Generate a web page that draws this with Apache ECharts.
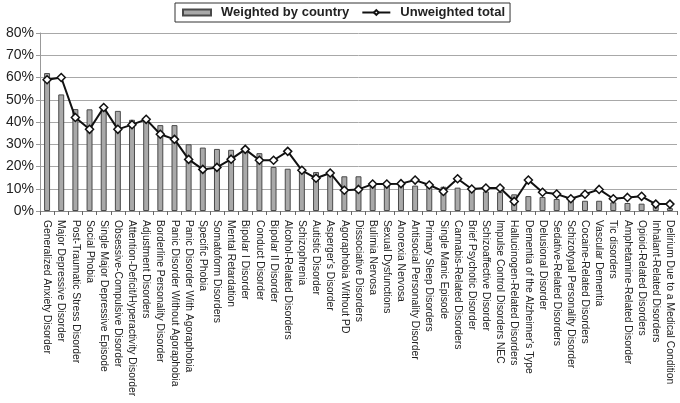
<!DOCTYPE html>
<html>
<head>
<meta charset="utf-8">
<script src="https://cdn.jsdelivr.net/npm/echarts@6/dist/echarts.min.js"></script>
<style>
  html, body { margin: 0; padding: 0; background: #fff; }
  #chart { width: 680px; height: 403px; }
</style>
</head>
<body>
<div id="chart"></div>
<script>
// 类别（疾病名称）
const disorders = [
  'Generalized Anxiety Disorder', 'Major Depressive Disorder', 'Post-Traumatic Stress Disorder',
  'Social Phobia', 'Single Major Depressive Episode', 'Obsessive-Compulsive Disorder',
  'Attention-Deficit/Hyperactivity Disorder', 'Adjustment Disorders', 'Borderline Personality Disorder',
  'Panic Disorder Without Agoraphobia', 'Panic Disorder With Agoraphobia', 'Specific Phobia',
  'Somatoform Disorders', 'Mental Retardation', 'Bipolar I Disorder', 'Conduct Disorder',
  'Bipolar II Disorder', 'Alcohol-Related Disorders', 'Schizophrenia', 'Autistic Disorder',
  "Asperger's Disorder", 'Agoraphobia Without PD', 'Dissociative Disorders', 'Bulimia Nervosa',
  'Sexual Dysfunctions', 'Anorexia Nervosa', 'Antisocial Personality Disorder',
  'Primary Sleep Disorders', 'Single Manic Episode', 'Cannabis-Related Disorders',
  'Brief Psychotic Disorder', 'Schizoaffective Disorder', 'Impulse Control Disorders NEC',
  'Hallucinogen-Related Disorders', "Dementia of the Alzheimer's Type", 'Delusional Disorder',
  'Sedative-Related Disorders', 'Schizotypal Personality Disorder', 'Cocaine-Related Disorders',
  'Vascular Dementia', 'Tic disorders', 'Amphetamine-Related Disorder', 'Opioid-Related Disorders',
  'Inhalant-Related Disorders', 'Delirium Due to a Medical Condition'
];

// 按国家加权（柱状）
const weighted = [
  62, 52.4, 45.8, 45.7, 46, 45, 41, 40.5, 38.6, 38.6,
  30, 28.5, 27.9, 27.5, 28.5, 26, 19.8, 19, 18.7, 17.5,
  16.8, 15.6, 15.6, 12.6, 13, 12.3, 11.4, 11.2, 10.9, 10.5,
  9.6, 8.8, 8.5, 7.5, 6.7, 6.3, 5.4, 5.1, 4.6, 4.6,
  3.9, 3.6, 3.3, 2.4, 1.3
];

// 未加权总数（折线）
const unweighted = [
  59, 60, 42, 36.7, 46.5, 36.7, 38.8, 41.2, 34.5, 32.2,
  23.2, 18.7, 19.6, 23.3, 27.7, 22.8, 22.8, 26.8, 18.3, 14.7,
  17.1, 9.3, 9.7, 12.1, 12.1, 12.3, 13.9, 11.7, 8.8, 14.5,
  9.9, 10.3, 10.3, 4.3, 13.9, 8.4, 7.6, 5.5, 7.5, 9.7,
  5.5, 6.1, 6.6, 3.1, 3.1
];

const yTicks = [0, 10, 20, 30, 40, 50, 60, 70, 80];

const myChart = echarts.init(document.getElementById('chart'));
const font = 'Liberation Sans, Arial, sans-serif';

const option = {
  animation: false,
  textStyle: { fontFamily: font },
  legend: {
    left: 175,
    top: 3,
    padding: [3, 5, 3, 7],
    itemGap: 12,
    borderColor: '#333',
    borderWidth: 1,
    borderRadius: 0,
    itemWidth: 28,
    itemHeight: 6,
    textStyle: { fontFamily: font, fontSize: 13, fontWeight: 'bold', color: '#222', padding: [0, 0, 0, 5] },
    data: [
      { name: 'Weighted by country', icon: 'rect' },
      { name: 'Unweighted total' }
    ]
  },
  grid: { left: 40, right: 3, top: 33, bottom: 192, containLabel: false },
  xAxis: {
    type: 'category',
    data: disorders,
    boundaryGap: true,
    axisLine: { lineStyle: { color: '#888', width: 1 } },
    axisTick: { show: true, length: 4, lineStyle: { color: '#666' } },
    axisLabel: {
      interval: 0,
      rotate: -90,
      fontSize: 10.3,
      color: '#222',
      fontFamily: font,
      margin: 9
    }
  },
  yAxis: {
    type: 'value',
    min: yTicks[0],
    max: yTicks[yTicks.length - 1],
    interval: 10,
    axisLine: { show: true, lineStyle: { color: '#999' } },
    axisTick: { show: true, length: 4, lineStyle: { color: '#999' } },
    axisLabel: {
      formatter: '{value}%',
      fontSize: 14,
      color: '#222',
      fontFamily: font,
      margin: 6
    },
    splitLine: { lineStyle: { color: '#a8a8a8', width: 1 } }
  },
  series: [
    {
      name: 'Weighted by country',
      type: 'bar',
      data: weighted,
      barWidth: '42%',
      itemStyle: { color: '#a9a9a9', borderColor: '#4a4a4a', borderWidth: 1 }
    },
    {
      name: 'Unweighted total',
      type: 'line',
      data: unweighted,
      symbol: 'diamond',
      symbolSize: 8,
      color: '#111',
      lineStyle: { color: '#111', width: 2 },
      itemStyle: { color: '#fff', borderColor: '#111', borderWidth: 1.5 }
    }
  ]
};
myChart.setOption(option);
</script>
</body>
</html>
